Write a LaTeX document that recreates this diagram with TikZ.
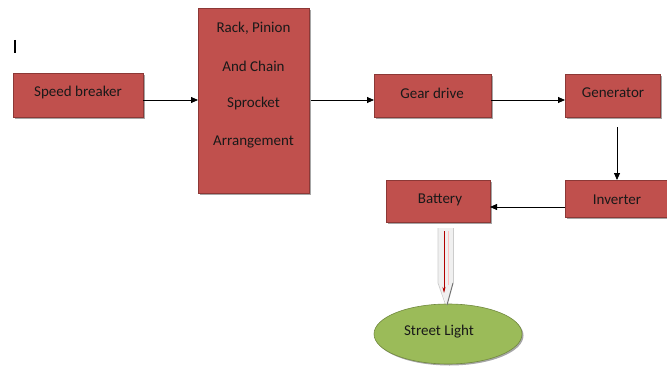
\documentclass[tikz,border=0pt]{standalone}
\usepackage{fontspec}
\setmainfont{Carlito}
\usetikzlibrary{arrows.meta,shadows,shapes.geometric}
\definecolor{boxred}{HTML}{C0504D}
\definecolor{boxedge}{HTML}{8C3836}
\definecolor{lightgreen}{HTML}{9BBB59}
\definecolor{greenedge}{HTML}{71893F}
\tikzset{
  blockbox/.style={draw=boxedge, line width=0.6pt, fill=boxred, minimum height=#1, inner sep=0pt,
    drop shadow={shadow xshift=1.5pt, shadow yshift=-1.5pt, fill=black, opacity=0.35}},
  lbl/.style={font=\fontsize{15}{17}\selectfont, text=black!90, inner sep=0pt},
  link/.style={-{Triangle[length=7pt,width=6pt]}, line width=0.8pt, black},
}
\begin{document}
\begin{tikzpicture}[x=1pt,y=-1pt]
\useasboundingbox (0,0) rectangle (667,369);
% cursor mark
\draw[line width=1.5pt] (15,40) -- (15,53);
% boxes
\node[blockbox=44pt, minimum width=130pt, anchor=north west] (sb) at (13,73) {};
\node[lbl] (sbt) at (78,93) {Speed breaker};
\node[blockbox=185pt, minimum width=111pt, anchor=north west] (rk) at (198,8) {};
\node[lbl] (rk1) at (253.5,28) {Rack, Pinion};
\node[lbl] (rk2) at (253.5,66) {And Chain};
\node[lbl] (rk3) at (253.5,104) {Sprocket};
\node[lbl] (rk4) at (253.5,142) {Arrangement};
\node[blockbox=43pt, minimum width=117pt, anchor=north west] (gd) at (374,74) {};
\node[lbl] (gdt) at (432,93) {Gear drive};
\node[blockbox=43pt, minimum width=95pt, anchor=north west] (gn) at (565,74) {};
\node[lbl] (gnt) at (613,93) {Generator};
\node[blockbox=37pt, minimum width=104pt, anchor=north west] (iv) at (565,180) {};
\node[lbl] (ivt) at (617,200) {Inverter};
\node[blockbox=42pt, minimum width=104pt, anchor=north west] (bt) at (386,180) {};
\node[lbl] (btt) at (440,200) {Battery};
% ellipse
\node[ellipse, draw=greenedge, line width=0.6pt, fill=lightgreen, minimum width=148pt, minimum height=60pt,
  drop shadow={shadow xshift=1.5pt, shadow yshift=-1.5pt, fill=black, opacity=0.35}] (sl) at (448,334) {};
\node[lbl] (slt) at (439,332) {Street Light};
% connectors
\coordinate (a1) at (143,100);
\coordinate (a2) at (198,100);
\draw[link] (a1) -- (a2);
\coordinate (b1) at (311,100);
\coordinate (b2) at (374,100);
\draw[link] (b1) -- (b2);
\coordinate (c1) at (491,100);
\coordinate (c2) at (565,100);
\draw[link] (c1) -- (c2);
\coordinate (d1) at (617,127);
\coordinate (d2) at (617,180);
\draw[link] (d1) -- (d2);
\coordinate (e1) at (565,207);
\coordinate (e2) at (490,207);
\draw[link] (e1) -- (e2);
% hollow arrow battery -> street light
\fill[gray!12] (438,228) -- (453,228) -- (453,283) -- (447,305) -- (438,283) -- cycle;
\draw[gray!40, line width=0.7pt] (438,228) -- (438,283) -- (445,303);
\draw[gray!40, line width=0.7pt] (453,228) -- (453,283);
\draw[black!55, line width=1pt] (453,283) -- (447,305);
\coordinate (f1) at (444,231);
\coordinate (f2) at (444,293);
\draw[red!70!black, line width=0.5pt, -{Stealth[length=6pt,width=3pt]}] (f1) -- (f2);
\draw[red!25, line width=0.6pt] (448,231) -- (448,285);
\end{tikzpicture}
\end{document}
